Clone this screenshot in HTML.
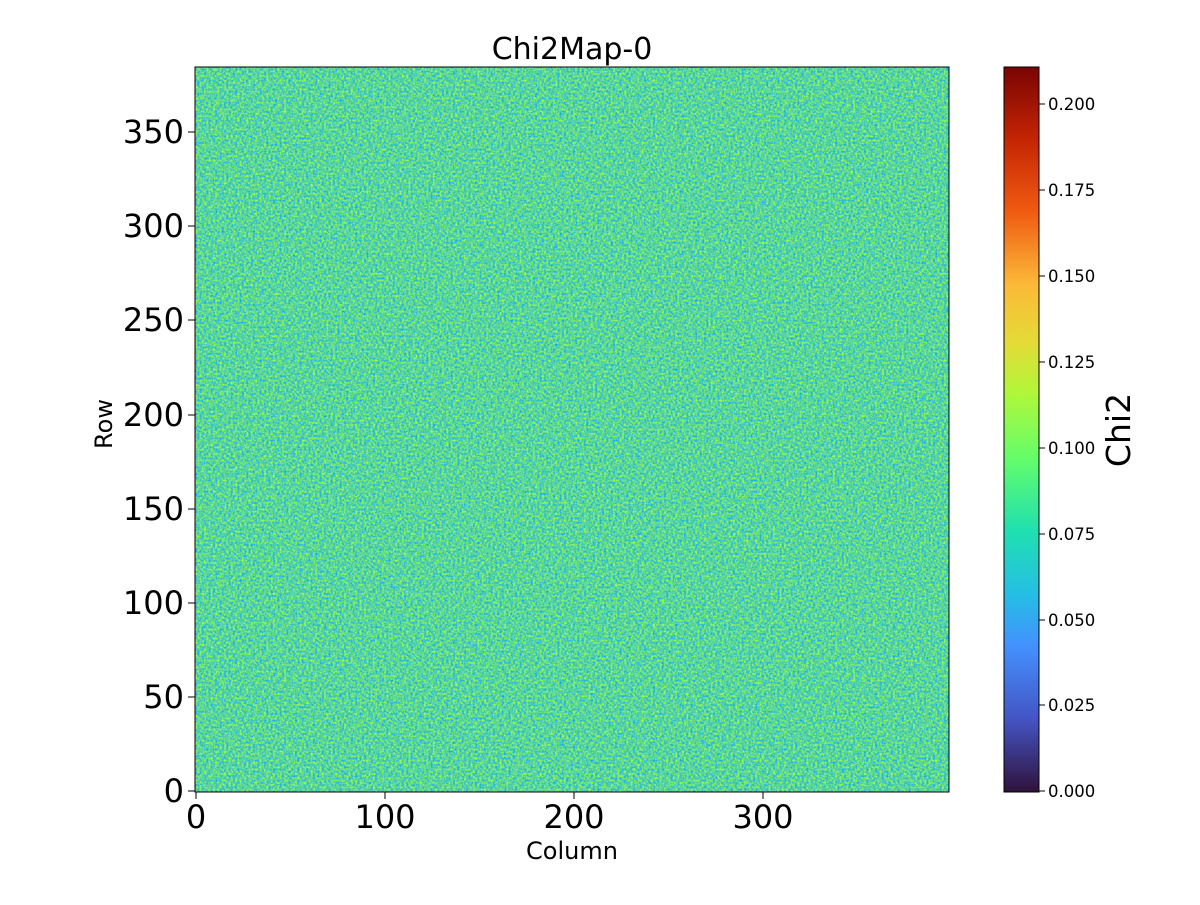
<!DOCTYPE html>
<html><head><meta charset="utf-8"><style>
body{margin:0;background:#fff;}
svg text{font-family:"DejaVu Sans","Liberation Sans",sans-serif;fill:#000;}
</style></head><body>
<svg width="1200" height="900" viewBox="0 0 1200 900" xmlns="http://www.w3.org/2000/svg">
<defs>
<filter id="nz" x="0" y="0" width="100%" height="100%" color-interpolation-filters="sRGB">
<feTurbulence type="fractalNoise" baseFrequency="0.45" numOctaves="2" seed="3" result="t"/>
<feColorMatrix in="t" type="matrix" values="1 0 0 0 -0.15  0.575 0 0 0 0.5475  -1.325 0 0 0 1.2775  0 0 0 0 1"/>
</filter>
<linearGradient id="turbo" x1="0" y1="1" x2="0" y2="0">
<stop offset="0" stop-color="#30123b"/>
<stop offset="0.1" stop-color="#4454c4"/>
<stop offset="0.2" stop-color="#4490fe"/>
<stop offset="0.27" stop-color="#25bde6"/>
<stop offset="0.36" stop-color="#1fe0b0"/>
<stop offset="0.46" stop-color="#64fd6a"/>
<stop offset="0.55" stop-color="#b0f73a"/>
<stop offset="0.62" stop-color="#e5db37"/>
<stop offset="0.7" stop-color="#fbb938"/>
<stop offset="0.8" stop-color="#f05b12"/>
<stop offset="0.9" stop-color="#c42503"/>
<stop offset="1" stop-color="#7a0403"/>
</linearGradient>
</defs>
<rect x="195" y="67" width="754" height="725" fill="#55d6a0"/>
<rect x="195" y="67" width="754" height="725" filter="url(#nz)"/>
<rect x="195" y="67" width="754" height="725" fill="none" stroke="#000" stroke-width="1"/>
<text x="572" y="59" font-size="30" text-anchor="middle">Chi2Map-0</text>
<g stroke="#000" stroke-width="1">
<line x1="196" y1="792" x2="196" y2="799"/><line x1="385" y1="792" x2="385" y2="799"/>
<line x1="574" y1="792" x2="574" y2="799"/><line x1="763" y1="792" x2="763" y2="799"/>
<line x1="188" y1="791" x2="195" y2="791"/><line x1="188" y1="697" x2="195" y2="697"/>
<line x1="188" y1="603" x2="195" y2="603"/><line x1="188" y1="509" x2="195" y2="509"/>
<line x1="188" y1="415" x2="195" y2="415"/><line x1="188" y1="320" x2="195" y2="320"/>
<line x1="188" y1="226" x2="195" y2="226"/><line x1="188" y1="132" x2="195" y2="132"/>
</g>
<g font-size="32" text-anchor="middle">
<text x="196" y="828">0</text><text x="385" y="828">100</text>
<text x="574" y="828">200</text><text x="763" y="828">300</text>
</g>
<g font-size="32" text-anchor="end">
<text x="184" y="802">0</text><text x="184" y="708">50</text>
<text x="184" y="614">100</text><text x="184" y="520">150</text>
<text x="184" y="426">200</text><text x="184" y="331">250</text>
<text x="184" y="237">300</text><text x="184" y="143">350</text>
</g>
<text x="572" y="859" font-size="24" text-anchor="middle">Column</text>
<text transform="translate(112,424) rotate(-90)" font-size="24" text-anchor="middle">Row</text>
<rect x="1004" y="67" width="35" height="725" fill="url(#turbo)" stroke="#000" stroke-width="1"/>
<g stroke="#000" stroke-width="1">
<line x1="1039" y1="791" x2="1045" y2="791"/><line x1="1039" y1="705" x2="1045" y2="705"/>
<line x1="1039" y1="620" x2="1045" y2="620"/><line x1="1039" y1="534" x2="1045" y2="534"/>
<line x1="1039" y1="448" x2="1045" y2="448"/><line x1="1039" y1="362" x2="1045" y2="362"/>
<line x1="1039" y1="276" x2="1045" y2="276"/><line x1="1039" y1="190" x2="1045" y2="190"/>
<line x1="1039" y1="104" x2="1045" y2="104"/>
</g>
<g font-size="16.5">
<text x="1048" y="797">0.000</text><text x="1048" y="711">0.025</text>
<text x="1048" y="626">0.050</text><text x="1048" y="540">0.075</text>
<text x="1048" y="454">0.100</text><text x="1048" y="368">0.125</text>
<text x="1048" y="282">0.150</text><text x="1048" y="196">0.175</text>
<text x="1048" y="110">0.200</text>
</g>
<text transform="translate(1130,430) rotate(-90)" font-size="33" text-anchor="middle">Chi2</text>
</svg>
</body></html>
